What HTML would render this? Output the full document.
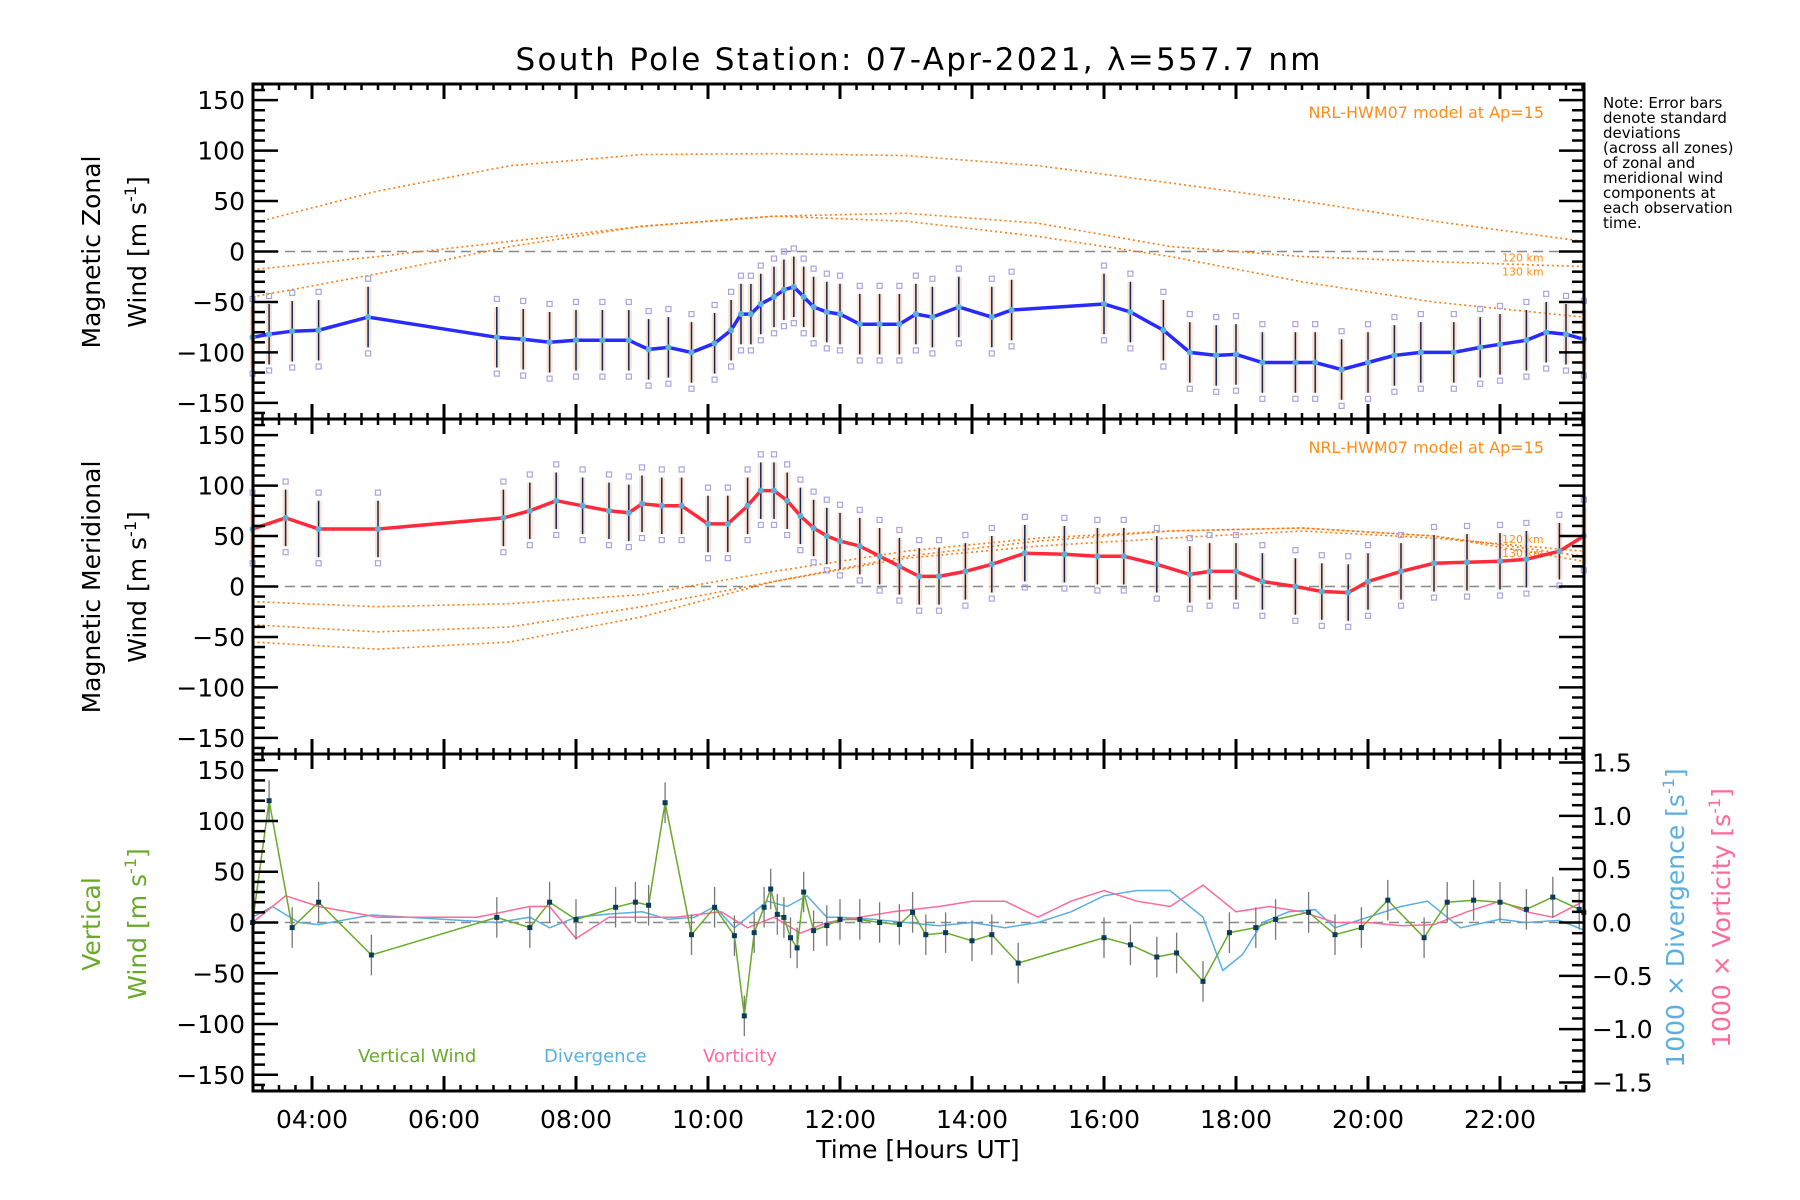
<!DOCTYPE html>
<html><head><meta charset="utf-8"><style>
body{margin:0;background:#fff;}
svg{display:block;font-family:"DejaVu Sans","Liberation Sans",sans-serif;}
</style></head><body>
<svg id="c" width="1800" height="1200" viewBox="0 0 1800 1200" xmlns="http://www.w3.org/2000/svg">
<text x="918" y="70" font-size="31" text-anchor="middle" textLength="805" lengthAdjust="spacing">South Pole Station: 07-Apr-2021, λ=557.7 nm</text>
<g font-size="15" fill="#000">
<text x="1603" y="108">Note: Error bars</text><text x="1603" y="123">denote standard</text><text x="1603" y="138">deviations</text><text x="1603" y="153">(across all zones)</text><text x="1603" y="168">of zonal and</text><text x="1603" y="183">meridional wind</text><text x="1603" y="198">components at</text><text x="1603" y="213">each observation</text><text x="1603" y="228">time.</text>
</g>
<g font-size="25" text-anchor="middle">
<text transform="translate(100,252) rotate(-90)">Magnetic Zonal</text>
<text transform="translate(146,252) rotate(-90)">Wind [m s<tspan dy="-10" font-size="16">-1</tspan><tspan dy="10">]</tspan></text>
</g>
<g font-size="25" text-anchor="middle">
<text transform="translate(100,587) rotate(-90)">Magnetic Meridional</text>
<text transform="translate(146,587) rotate(-90)">Wind [m s<tspan dy="-10" font-size="16">-1</tspan><tspan dy="10">]</tspan></text>
</g>
<g font-size="25" text-anchor="middle" fill="#6aaa2a">
<text transform="translate(100,924) rotate(-90)">Vertical</text>
<text transform="translate(146,924) rotate(-90)">Wind [m s<tspan dy="-10" font-size="16">-1</tspan><tspan dy="10">]</tspan></text>
</g>
<text font-size="25" text-anchor="middle" fill="#5aaee0" transform="translate(1684,918) rotate(-90)">1000 × Divergence [s<tspan dy="-10" font-size="16">-1</tspan><tspan dy="10">]</tspan></text>
<text font-size="25" text-anchor="middle" fill="#ff6a9a" transform="translate(1730,918) rotate(-90)">1000 × Vorticity [s<tspan dy="-10" font-size="16">-1</tspan><tspan dy="10">]</tspan></text>
<text x="358" y="1062" font-size="18" fill="#6aaa2a">Vertical Wind</text>
<text x="544" y="1062" font-size="18" fill="#5aaee0">Divergence</text>
<text x="703" y="1062" font-size="18" fill="#ff6a9a">Vorticity</text>
<text x="1544" y="118" font-size="16" fill="#ff8c1a" text-anchor="end">NRL-HWM07 model at Ap=15</text>
<text x="1544" y="453" font-size="16" fill="#ff8c1a" text-anchor="end">NRL-HWM07 model at Ap=15</text>
<text x="918" y="1158" font-size="25" text-anchor="middle">Time [Hours UT]</text>
</svg>
<script>
// ---- data ----
const zonalT=[3.1,3.35,3.7,4.1,4.85,6.8,7.2,7.6,8.0,8.4,8.8,9.1,9.4,9.75,10.1,10.35,10.5,10.65,10.8,11.0,11.15,11.3,11.45,11.6,11.8,12.0,12.3,12.6,12.9,13.15,13.4,13.8,14.3,14.6,16.0,16.4,16.9,17.3,17.7,18.0,18.4,18.9,19.2,19.6,20.0,20.4,20.8,21.3,21.7,22.0,22.4,22.7,23.0,23.27];
const zonalV=[-85,-82,-79,-78,-65,-85,-87,-90,-88,-88,-88,-97,-95,-100,-91,-78,-62,-62,-52,-45,-38,-35,-45,-55,-60,-62,-72,-72,-72,-62,-65,-55,-65,-58,-52,-60,-78,-100,-103,-102,-110,-110,-110,-117,-110,-103,-100,-100,-95,-92,-88,-80,-82,-87];
const meridT=[3.1,3.6,4.1,5.0,6.9,7.3,7.7,8.1,8.5,8.8,9.0,9.3,9.6,10.0,10.3,10.6,10.8,11.0,11.2,11.4,11.6,11.8,12.0,12.3,12.6,12.9,13.2,13.5,13.9,14.3,14.8,15.4,15.9,16.3,16.8,17.3,17.6,18.0,18.4,18.9,19.3,19.7,20.0,20.5,21.0,21.5,22.0,22.4,22.9,23.27];
const meridV=[57,68,57,57,68,75,85,80,75,73,82,80,80,62,62,80,95,95,85,70,58,50,45,40,30,20,10,10,15,22,33,32,30,30,22,12,15,15,5,0,-5,-6,5,15,23,24,25,27,35,50];
const vertT=[3.1,3.35,3.7,4.1,4.9,6.8,7.3,7.6,8.0,8.6,8.9,9.1,9.35,9.75,10.1,10.4,10.55,10.7,10.85,10.95,11.05,11.15,11.25,11.35,11.45,11.6,11.8,12.0,12.3,12.6,12.9,13.1,13.3,13.6,14.0,14.3,14.7,16.0,16.4,16.8,17.1,17.5,17.9,18.3,18.6,19.1,19.5,19.9,20.3,20.85,21.2,21.6,22.0,22.4,22.8,23.2,23.27];
const vertV=[0,120,-5,20,-32,5,-5,20,3,15,20,17,118,-12,15,-13,-92,-10,15,33,8,5,-15,-25,30,-8,-3,3,3,0,-2,10,-12,-10,-18,-12,-40,-15,-22,-34,-30,-58,-10,-5,3,10,-12,-5,22,-15,20,22,20,13,25,13,10];
const divT=[3.1,3.4,3.8,4.1,4.9,6.8,7.3,7.6,8.0,8.5,9.0,9.4,9.8,10.1,10.4,10.6,10.9,11.2,11.5,11.8,12.0,12.5,13.0,13.5,14.0,14.5,15.0,15.5,16.0,16.5,17.0,17.5,17.8,18.1,18.4,18.8,19.2,19.5,20.0,20.5,20.9,21.4,22.0,22.4,22.9,23.27];
const divV=[0.05,0.15,0.0,-0.02,0.07,0.0,0.05,-0.05,0.05,0.08,0.1,0.03,0.05,0.15,-0.05,0.05,0.2,0.15,0.25,0.05,0.05,0.03,0.0,-0.03,0.0,-0.05,0.0,0.1,0.25,0.3,0.3,0.05,-0.45,-0.3,0.0,0.1,0.12,-0.05,0.05,0.15,0.2,-0.05,0.03,0.0,0.02,-0.07];
const vortT=[3.1,3.6,4.1,5.0,6.5,7.3,7.6,8.0,8.5,9.0,9.5,10.2,10.6,11.0,11.4,11.8,12.3,12.8,13.5,14.0,14.5,15.0,15.5,16.0,16.5,17.0,17.5,18.0,18.5,19.0,19.5,20.0,20.5,21.0,21.5,22.0,22.4,22.8,23.27];
const vortV=[0.0,0.25,0.15,0.05,0.05,0.15,0.15,-0.15,0.05,0.05,0.05,0.1,-0.05,0.05,-0.1,0.0,0.05,0.1,0.15,0.2,0.2,0.05,0.2,0.3,0.2,0.15,0.35,0.1,0.15,0.1,0.0,0.0,-0.03,-0.02,0.1,0.2,0.1,0.05,0.2];
const modelT=[3.1,5,7,9,11,13,15,17,19,21,23.27];
const zModelA=[28,60,85,96,97,95,85,68,50,30,10];
const zModelB=[-18,-5,10,25,35,38,28,5,-5,-10,-15];
const zModelC=[-45,-22,5,25,35,30,15,-5,-30,-50,-65];
const mModelA=[-15,-20,-17,-8,15,35,48,55,58,50,30];
const mModelB=[-38,-45,-40,-20,5,28,40,48,55,48,35];
const mModelC=[-55,-62,-55,-30,5,30,45,55,58,50,25];
const xTicks=['04:00','06:00','08:00','10:00','12:00','14:00','16:00','18:00','20:00','22:00'];
const xTickHours=[4,6,8,10,12,14,16,18,20,22];
const yTicks=[150,100,50,0,-50,-100,-150];
const rTicks=['1.5','1.0','0.5','0.0','−0.5','−1.0','−1.5'];
const rTickVals=[1.5,1.0,0.5,0.0,-0.5,-1.0,-1.5];
// ---- layout ----
const L=253,R=1584;
const panels=[{t:84,b:419,name:'zonal'},{t:419,b:754,name:'meridional'},{t:754,b:1091,name:'vertical'}];
const x=t=>312+(t-4)*66;
const yv=(p,v)=>p.t+(166-v)*(p.b-p.t)/332;
const yr=(p,v)=>p.t+(1.58-v)*(p.b-p.t)/3.16;
const svg=document.getElementById('c');
const NS='http://www.w3.org/2000/svg';
function el(tag,a,parent){const e=document.createElementNS(NS,tag);for(const k in a)e.setAttribute(k,a[k]);(parent||svg).appendChild(e);return e;}
function poly(ts,vs,f,p){return ts.map((t,i)=>x(t).toFixed(1)+','+f(p,vs[i]).toFixed(1)).join(' ');}

panels.forEach((p,pi)=>{
  const z=el('line',{x1:L,x2:R,y1:yv(p,0),y2:yv(p,0),stroke:'#888','stroke-width':1.5,'stroke-dasharray':'10,6'});
  
  
});

function modelLines(p,arrs,nm){
  arrs.forEach((a,i)=>{
    const l=el('polyline',{points:poly(modelT,a,yv,p),fill:'none',stroke:'#ff7a10','stroke-width':1.6,'stroke-dasharray':'2,3'});
    
    
  });
}
modelLines(panels[0],[zModelA,zModelB,zModelC],'zonal');
modelLines(panels[1],[mModelA,mModelB,mModelC],'meridional');
[[0,-6,'120 km'],[0,-20,'130 km'],[1,47,'120 km'],[1,33,'130 km']].forEach(a=>{
  const t=el('text',{x:1502,y:yv(panels[a[0]],a[1])+4,'font-size':11,fill:'#ff8c1a'});t.textContent=a[2];
  
  
});

function windSeries(p,ts,vs,color,nm,err){
  ts.forEach((t,i)=>{
    const cx=x(t);
    const b=el('rect',{x:cx-3,y:yv(p,vs[i]+err),width:6,height:yv(p,vs[i]-err)-yv(p,vs[i]+err),fill:'#ffc9a8',opacity:0.55});
    
    
    const e=el('line',{x1:cx,x2:cx,y1:yv(p,vs[i]+err),y2:yv(p,vs[i]-err),stroke:'#0b2a55','stroke-width':1.5});
    
    
    [err+8,-err-6].forEach(o=>{
      const s=el('rect',{x:cx-2.5,y:yv(p,vs[i]+o)-2.5,width:5,height:5,fill:'none',stroke:'#a8a4e0','stroke-width':1.2});
      
      
    });
  });
  const l=el('polyline',{points:poly(ts,vs,yv,p),fill:'none',stroke:color,'stroke-width':3.5});
  
  
  ts.forEach((t,i)=>{
    const c=el('circle',{cx:x(t),cy:yv(p,vs[i]),r:3,fill:'#5ab0d8'});
    
    
  });
}
windSeries(panels[0],zonalT,zonalV,'#2a2aff','zonal-wind',30);
windSeries(panels[1],meridT,meridV,'#ff2a3a','meridional-wind',28);

const p3=panels[2];
const dl=el('polyline',{points:poly(divT,divV,yr,p3),fill:'none',stroke:'#5aaee0','stroke-width':1.5});


const vl=el('polyline',{points:poly(vortT,vortV,yr,p3),fill:'none',stroke:'#ff6a9a','stroke-width':1.5});


vertT.forEach((t,i)=>{
  const e=el('line',{x1:x(t),x2:x(t),y1:yv(p3,vertV[i]+20),y2:yv(p3,vertV[i]-20),stroke:'#777','stroke-width':1.3});
  
  
});
const gl=el('polyline',{points:poly(vertT,vertV,yv,p3),fill:'none',stroke:'#6aaa2a','stroke-width':1.5});


vertT.forEach((t,i)=>{
  const m=el('rect',{x:x(t)-2.5,y:yv(p3,vertV[i])-2.5,width:5,height:5,fill:'#0b3a5a'});
  
  
});

// axes
panels.forEach((p,pi)=>{
  const fr=el('rect',{x:L,y:p.t,width:R-L,height:p.b-p.t,fill:'none',stroke:'#000','stroke-width':3});
  
  
  for(let v=-160;v<=160;v+=10){
    const yy=yv(p,v),len=(v%50===0)?25:12;
    el('line',{x1:L,x2:L+len,y1:yy,y2:yy,stroke:'#000','stroke-width':2.5});
    if(pi<2) el('line',{x1:R,x2:R-len,y1:yy,y2:yy,stroke:'#000','stroke-width':2.5});
  }
  if(pi===2){
    for(let v=-15;v<=15;v++){const yy=yr(p,v/10),len=(v%5===0)?25:12;
      el('line',{x1:R,x2:R-len,y1:yy,y2:yy,stroke:'#000','stroke-width':2.5});}
  }
  for(let t=3.25;t<=23.27;t+=0.25){
    const xx=x(t),maj=Math.abs(t-Math.round(t))<0.01&&Math.round(t)%2===0,len=maj?15:6;
    el('line',{x1:xx,x2:xx,y1:p.t,y2:p.t+len,stroke:'#000','stroke-width':maj?3:2.5});
    el('line',{x1:xx,x2:xx,y1:p.b,y2:p.b-len,stroke:'#000','stroke-width':maj?3:2.5});
  }
  yTicks.forEach(v=>{
    const tx=el('text',{x:L-8,y:yv(p,v)+9,'font-size':25,'text-anchor':'end'});
    tx.textContent=v<0?'−'+(-v):String(v);
    
    
  });
});
rTicks.forEach((s,i)=>{
  const tx=el('text',{x:R+8,y:yr(p3,rTickVals[i])+9,'font-size':25});
  tx.textContent=s;
  
  
});
xTicks.forEach((s,i)=>{
  const tx=el('text',{x:x(xTickHours[i]),y:1128,'font-size':25,'text-anchor':'middle'});
  tx.textContent=s;
  
  
});
</script>
</body></html>
